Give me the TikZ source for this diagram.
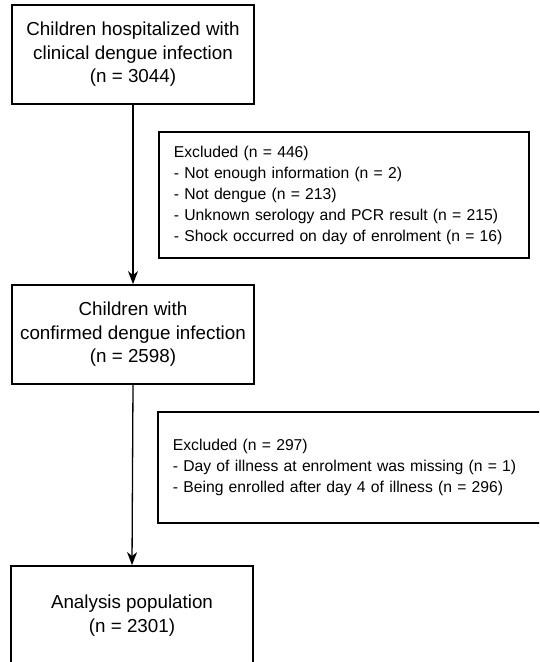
\documentclass[tikz,border=0pt]{standalone}
\usepackage{fontspec}
\setmainfont{Liberation Sans}
\usepackage{tikz}
\usetikzlibrary{arrows.meta,positioning}

\begin{document}
\begin{tikzpicture}[
  x=1pt, y=-1pt,
  >={Stealth[length=13pt, width=10pt, inset=4pt]},
  stg/.style={draw=black, line width=1.8pt, fill=white, align=center,
              inner sep=0pt, minimum width=242pt, minimum height=99pt,
              font=\fontsize{18.8}{23.5}\selectfont},
  excl/.style={draw=black, line width=1.8pt, fill=white, align=left,
               inner xsep=15pt, inner ysep=0pt, anchor=west,
               font=\fontsize{15.7}{21}\selectfont},
  flow/.style={->, line width=1.3pt, draw=black}
]
\useasboundingbox (0,0) rectangle (539,662);
\clip (0,0) rectangle (539,662);
\node[stg] (hosp) at (133,54.5) {Children hospitalized with\\clinical dengue infection\\(n = 3044)};
\node[stg] (conf) at (133,334.5) {Children with\\confirmed dengue infection\\(n = 2598)};
\node[stg] (anal) at (132,615.5) {Analysis population\\(n = 2301)};
\node[excl, text width=340pt, minimum height=126pt] (excl1) at (158,195)
  {Excluded (n = 446)\\
   - Not enough information (n = 2)\\
   - Not dengue (n = 213)\\
   - Unknown serology and PCR result (n = 215)\\
   - Shock occurred on day of enrolment (n = 16)};
\node[excl, text width=363pt, minimum height=111pt] (excl2) at (157,467.5)
  {Excluded (n = 297)\\
   - Day of illness at enrolment was missing (n = 1)\\
   - Being enrolled after day 4 of illness (n = 296)};
\draw[flow] (hosp.south) -- (conf.north);
\draw[flow] (conf.south) -- (anal.north);
\end{tikzpicture}
\end{document}
